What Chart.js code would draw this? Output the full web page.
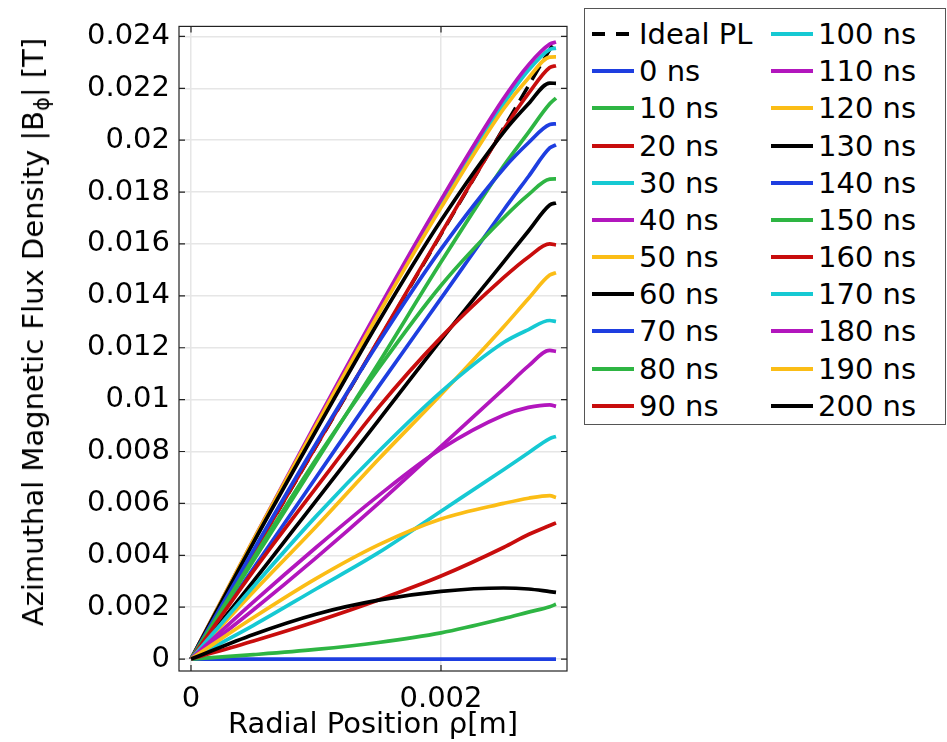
<!DOCTYPE html>
<html>
<head>
<meta charset="utf-8">
<title>Azimuthal magnetic flux density vs radial position</title>
<script src="https://cdn.jsdelivr.net/npm/chart.js@4.4.1/dist/chart.umd.min.js"></script>
<style>
    html, body { margin: 0; padding: 0; background: #fff; }
    #wrap { position: relative; width: 947px; height: 742px; font-family: "DejaVu Sans", sans-serif; color: #000; }
    #chart { position: absolute; left: 0; top: 0; }
    #ytitle {
        position: absolute; left: 33px; top: 332px;
        transform: translate(-50%, -50%) rotate(-90deg);
        white-space: nowrap; font-size: 29px;
    }
    #ytitle sub { font-size: 0.72em; vertical-align: -0.28em; line-height: 0; }
    #legend {
        position: absolute; left: 584px; top: 8px; width: 362px; height: 417px;
        border: 1px solid #555; box-sizing: border-box; background: #fff;
    }
    .item { position: absolute; height: 34px; font-size: 29px; line-height: 34px; white-space: nowrap; }
    .item svg { position: absolute; left: 0; top: 15px; }
    .item span { position: absolute; left: 47px; top: 0; }
</style>
</head>
<body>
<div id="wrap">
    <canvas id="chart" width="947" height="742"></canvas>
    <div id="ytitle">Azimuthal Magnetic Flux Density |B<sub>ϕ</sub>| [T]</div>
    <div id="legend"></div>
</div>
<script>
// radial sample positions (m) shared by every time curve
const radius = [0, 0.0005, 0.001, 0.0015, 0.002, 0.0025, 0.0027, 0.00287, 0.00292];

// ideal (perfect conductor) linear profile
const idealRadius = [0, 0.00292];
const idealField = [0, 0.0239];

// |B_phi| in T at each radius, one array per time step
const b000 = [0, 0, 0, 0, 0, 0, 0, 0, 0];
const b010 = [0, 0.00017, 0.00037, 0.00064, 0.00101, 0.00156, 0.00181, 0.00202, 0.00211];
const b020 = [0, 0.0007, 0.00145, 0.00228, 0.0032, 0.0043, 0.0048, 0.00515, 0.00525];
const b030 = [0, 0.0013, 0.0027, 0.0041, 0.0057, 0.0073, 0.00795, 0.0085, 0.00858];
const b040 = [0, 0.0019, 0.0039, 0.0060, 0.0082, 0.0104, 0.0113, 0.0119, 0.01186];
const b050 = [0, 0.0026, 0.0051, 0.0077, 0.0102, 0.0128, 0.0139, 0.0148, 0.01489];
const b060 = [0, 0.0030, 0.0061, 0.0092, 0.0123, 0.0153, 0.0165, 0.0175, 0.01758];
const b070 = [0, 0.0035, 0.0070, 0.0105, 0.0139, 0.0173, 0.0186, 0.0197, 0.01982];
const b080 = [0, 0.0038, 0.0076, 0.0114, 0.0153, 0.0190, 0.0203, 0.0214, 0.02162];
const b090 = [0, 0.0041, 0.0082, 0.0123, 0.0164, 0.0204, 0.0218, 0.0228, 0.02287];
const b100 = [0, 0.0045, 0.0090, 0.0134, 0.0176, 0.0214, 0.0227, 0.0235, 0.02355];
const b110 = [0, 0.0046, 0.0091, 0.0135, 0.0177, 0.0216, 0.0229, 0.0237, 0.02378];
const b120 = [0, 0.0046, 0.0090, 0.0133, 0.0174, 0.0212, 0.0224, 0.0232, 0.02321];
const b130 = [0, 0.0045, 0.0088, 0.0130, 0.0169, 0.0203, 0.0214, 0.0222, 0.02219];
const b140 = [0, 0.0042, 0.0083, 0.0122, 0.0158, 0.0189, 0.0199, 0.0206, 0.02063];
const b150 = [0, 0.0039, 0.0077, 0.0112, 0.0144, 0.0170, 0.0179, 0.0185, 0.01851];
const b160 = [0, 0.0034, 0.0066, 0.0097, 0.0124, 0.0147, 0.0155, 0.0160, 0.01596];
const b170 = [0, 0.0028, 0.0055, 0.0080, 0.0103, 0.0122, 0.0127, 0.01305, 0.01301];
const b180 = [0, 0.0022, 0.0043, 0.0063, 0.0081, 0.0094, 0.0097, 0.0098, 0.00974];
const b190 = [0, 0.0016, 0.0031, 0.0044, 0.0054, 0.0060, 0.0062, 0.0063, 0.00623];
const b200 = [0, 0.00095, 0.00173, 0.00227, 0.00261, 0.00274, 0.0027, 0.0026, 0.00257];

const times = [0, 10, 20, 30, 40, 50, 60, 70, 80, 90, 100, 110, 120, 130, 140, 150, 160, 170, 180, 190, 200];
const fieldSeries = [b000, b010, b020, b030, b040, b050, b060, b070, b080, b090, b100,
                     b110, b120, b130, b140, b150, b160, b170, b180, b190, b200];

// colour cycle used by the plot: blue, green, red, cyan, magenta, yellow, black
const seriesColors = ['#1e3ee0', '#2eb543', '#c80d0d', '#16c9d3', '#b216bd', '#fbbd16', '#000000'];

// axis ticks
const xTicks = [0, 0.002];
const xTickLabels = ['0', '0.002'];
const yTicks = [0, 0.002, 0.004, 0.006, 0.008, 0.01, 0.012, 0.014, 0.016, 0.018, 0.02, 0.022, 0.024];
const yTickLabels = ['0', '0.002', '0.004', '0.006', '0.008', '0.01', '0.012', '0.014', '0.016', '0.018', '0.02', '0.022', '0.024'];

const FONT = '"DejaVu Sans", sans-serif';
const FONT_SIZE = 29;

function toPoints(xs, ys) {
    return xs.map((x, i) => ({ x: x, y: ys[i] }));
}

function buildDatasets() {
    const sets = [{
        label: 'Ideal PL',
        data: toPoints(idealRadius, idealField),
        borderColor: '#000',
        borderWidth: 3.5,
        borderDash: [16, 8],
        dashed: true
    }];
    times.forEach((t, i) => {
        sets.push({
            label: t + ' ns',
            data: toPoints(radius, fieldSeries[i]),
            borderColor: seriesColors[i % seriesColors.length],
            borderWidth: 3.7,
            cubicInterpolationMode: 'monotone'
        });
    });
    // later time steps are painted over the earlier ones
    sets.forEach((s, i) => { s.order = sets.length - i; s.pointRadius = 0; s.fill = false; });
    return sets;
}

// frame round the plot with short inward tick marks on all four sides
const frameTicks = {
    id: 'frameTicks',
    afterDraw(chart) {
        const { ctx, chartArea: a, scales: { x, y } } = chart;
        ctx.save();
        ctx.strokeStyle = '#222';
        ctx.lineWidth = 1.2;
        ctx.strokeRect(a.left, a.top, a.right - a.left, a.bottom - a.top);
        ctx.beginPath();
        yTicks.forEach(v => {
            const py = y.getPixelForValue(v);
            ctx.moveTo(a.left, py); ctx.lineTo(a.left + 6, py);
            ctx.moveTo(a.right - 6, py); ctx.lineTo(a.right, py);
        });
        xTicks.forEach(v => {
            const px = x.getPixelForValue(v);
            ctx.moveTo(px, a.top); ctx.lineTo(px, a.top + 6);
            ctx.moveTo(px, a.bottom - 6); ctx.lineTo(px, a.bottom);
        });
        ctx.stroke();
        ctx.restore();
    }
};

function renderLegend(datasets) {
    const box = document.getElementById('legend');
    box.innerHTML = datasets.map((ds, i) => {
        const col = i < 11 ? 0 : 1;
        const row = i % 11;
        const left = col === 0 ? 7 : 186;
        const top = 8 + row * 37.17;
        const dash = ds.dashed ? ' stroke-dasharray="13 11"' : '';
        return `
            <div class="item" style="left:${left}px; top:${top}px;">
                <svg width="42" height="4"><line x1="0" y1="2" x2="42" y2="2" stroke="${ds.borderColor}" stroke-width="4"${dash}/></svg>
                <span>${ds.label}</span>
            </div>`;
    }).join('');
}

const datasets = buildDatasets();

new Chart(document.getElementById('chart'), {
    type: 'line',
    data: { datasets: datasets },
    options: {
        responsive: false,
        animation: false,
        events: [],
        layout: { padding: { left: 0, right: 380, top: 7, bottom: 0 } },
        plugins: { legend: { display: false }, tooltip: { enabled: false } },
        elements: { line: { tension: 0 } },
        scales: {
            x: {
                type: 'linear',
                min: -0.000096,
                max: 0.003008,
                afterBuildTicks: s => { s.ticks = xTicks.map(v => ({ value: v })); },
                afterFit: s => { s.height = 71; },
                ticks: {
                    callback: (v, i) => xTickLabels[i],
                    font: { family: FONT, size: FONT_SIZE },
                    color: '#000',
                    padding: 11,
                    maxRotation: 0
                },
                grid: { color: '#e6e6e6', lineWidth: 1.5, drawTicks: false },
                border: { display: false },
                title: {
                    display: true,
                    text: 'Radial Position ρ[m]',
                    font: { family: FONT, size: FONT_SIZE },
                    color: '#000',
                    padding: { top: 0, bottom: -1 }
                }
            },
            y: {
                type: 'linear',
                min: -0.00046,
                max: 0.024385,
                afterBuildTicks: s => { s.ticks = yTicks.map(v => ({ value: v })); },
                afterFit: s => { s.width = 179; },
                ticks: {
                    callback: (v, i) => yTickLabels[i],
                    font: { family: FONT, size: FONT_SIZE },
                    color: '#000',
                    padding: 9
                },
                grid: { color: '#e6e6e6', lineWidth: 1.5, drawTicks: false },
                border: { display: false }
            }
        }
    },
    plugins: [frameTicks]
});

renderLegend(datasets);
</script>
</body>
</html>
